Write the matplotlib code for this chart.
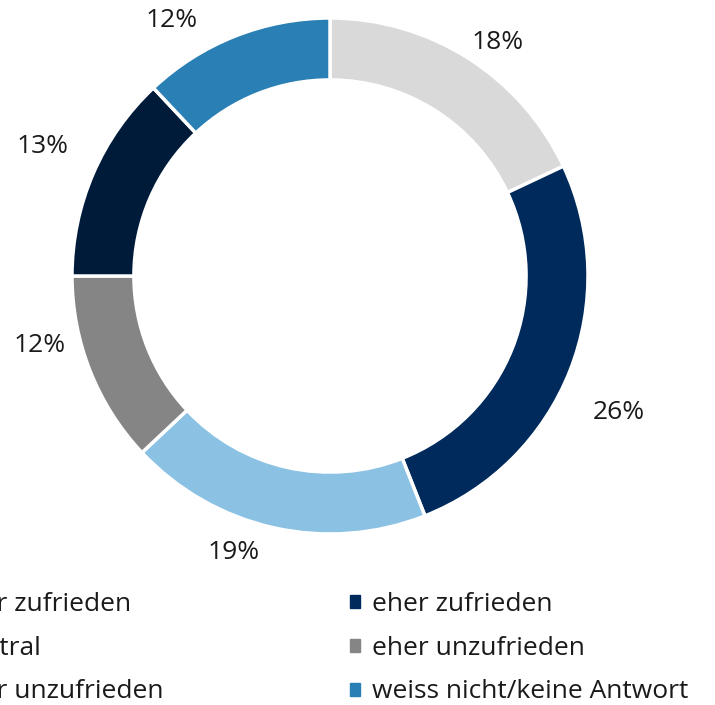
import numpy as np
import matplotlib
matplotlib.use("Agg")
import matplotlib.pyplot as plt
from matplotlib.patches import Patch

plt.rcParams['font.family'] = ['Open Sans', 'DejaVu Sans']

# data, clockwise from 12 o'clock
labels = ["sehr zufrieden", "eher zufrieden", "neutral",
          "eher unzufrieden", "sehr unzufrieden", "weiss nicht/keine Antwort"]
values = [18, 26, 19, 12, 13, 12]
colors = ["#d9d9d9", "#002a5c", "#8bc2e4", "#858585", "#001b3a", "#2a7fb4"]

# label placement (radius in pie units, angle nudge in degrees)
lab_r = [1.121, 1.235, 1.125, 1.157, 1.226, 1.173]
lab_da = [-2.9, -3.3, -6.7, -8.6, -1.1, 9.9]

W, H = 715, 705
cx, cy, R = 330, 276, 258   # pie centre / radius in pixels
fs = 19

fig = plt.figure(figsize=(W / 100, H / 100), dpi=100)
ax = fig.add_axes([0, 0, 1, 1])

wedges, _ = ax.pie(values, colors=colors, startangle=90, counterclock=False,
                   radius=1,
                   wedgeprops=dict(width=0.24, edgecolor="white", linewidth=2.5))

for w, v, r, da in zip(wedges, values, lab_r, lab_da):
    ang = np.deg2rad((w.theta1 + w.theta2) / 2 + da)
    ax.text(r * np.cos(ang), r * np.sin(ang) - 0.008, "%d%%" % v, ha="center",
            va="center", fontsize=fs, color="#1a1a1a")

ax.set_xlim(-cx / R, (W - cx) / R)
ax.set_ylim(-(H - cy) / R, cy / R)
ax.axis("off")

# legend: two columns, left one runs off the edge like in the original
hl = dict(handlelength=0.38, handleheight=0.38, handletextpad=0.45,
          labelspacing=0.71, fontsize=fs, frameon=False,
          borderpad=0, borderaxespad=0, loc="upper left")
left_idx = [0, 2, 4]
right_idx = [1, 3, 5]
top = 1 - 592 / H
leg1 = fig.legend([Patch(color=colors[i]) for i in left_idx],
                  [labels[i] for i in left_idx],
                  bbox_to_anchor=(-69 / W, top), **hl)
leg2 = fig.legend([Patch(color=colors[i]) for i in right_idx],
                  [labels[i] for i in right_idx],
                  bbox_to_anchor=(350 / W, top), **hl)
for leg in (leg1, leg2):
    for t in leg.get_texts():
        t.set_color("#1a1a1a")

fig.savefig("out.png", dpi=100)
